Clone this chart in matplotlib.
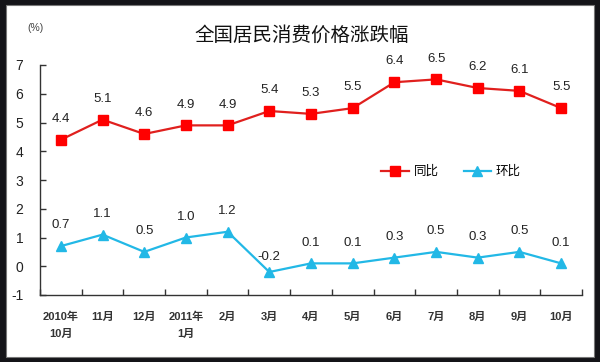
import matplotlib
matplotlib.use("Agg")
import matplotlib.pyplot as plt
from matplotlib.patches import Rectangle
from matplotlib.ticker import FixedLocator

plt.rcParams['font.family'] = ['Liberation Sans', 'Noto Sans CJK SC', 'DejaVu Sans']

categories = ["2010年\n10月", "11月", "12月", "2011年\n1月", "2月", "3月", "4月",
              "5月", "6月", "7月", "8月", "9月", "10月"]
yoy = [4.4, 5.1, 4.6, 4.9, 4.9, 5.4, 5.3, 5.5, 6.4, 6.5, 6.2, 6.1, 5.5]
mom = [0.7, 1.1, 0.5, 1.0, 1.2, -0.2, 0.1, 0.1, 0.3, 0.5, 0.3, 0.5, 0.1]
yoy_labels = ["4.4", "5.1", "4.6", "4.9", "4.9", "5.4", "5.3", "5.5", "6.4", "6.5", "6.2", "6.1", "5.5"]
mom_labels = ["0.7", "1.1", "0.5", "1.0", "1.2", "-0.2", "0.1", "0.1", "0.3", "0.5", "0.3", "0.5", "0.1"]
yticks = [-1, 0, 1, 2, 3, 4, 5, 6, 7]
title = "全国居民消费价格涨跌幅"
unit = "(%)"
legend_names = ["同比", "环比"]

W, H = 600, 362
fig = plt.figure(figsize=(W / 100, H / 100), dpi=100)
fig.patch.set_facecolor('#141418')
bg = Rectangle((6 / W, 5 / H), (594 - 6) / W, (357 - 5) / H,
               transform=fig.transFigure, facecolor='white',
               edgecolor='#777777', linewidth=0.8, zorder=-5)
fig.add_artist(bg)

ax = fig.add_axes([40 / W, 1 - 295 / H, (582 - 40) / W, (295 - 65) / H])
ax.set_facecolor('none')
ax.set_zorder(2)
x = list(range(len(categories)))

red_line = '#E0201E'
red_marker = '#FF0000'
cyan = '#22B8E6'

ax.plot(x, yoy, color=red_line, lw=1.6, marker='s', ms=6.5,
        mfc=red_marker, mec=red_marker, label=legend_names[0], zorder=3)
ax.plot(x, mom, color=cyan, lw=1.6, marker='^', ms=7.5,
        mfc=cyan, mec=cyan, label=legend_names[1], zorder=3)

for xi, v, t in zip(x, yoy, yoy_labels):
    ax.annotate(t, (xi, v), xytext=(0, 15), textcoords='offset points',
                ha='center', va='center', fontsize=9.5, color='#222222')
for xi, v, t in zip(x, mom, mom_labels):
    off = 11 if v < 0 else 15
    ax.annotate(t, (xi, v), xytext=(0, off), textcoords='offset points',
                ha='center', va='center', fontsize=9.5, color='#222222')

ax.set_xlim(-0.5, len(categories) - 0.5)
ax.set_ylim(-1, 7)
ax.set_yticks(yticks)
ax.set_yticklabels([str(v) for v in yticks], fontsize=10, color='#222222')
ax.tick_params(axis='y', direction='in', length=4, width=1, color='#333333', pad=12)

ax.set_xticks(x)
ax.set_xticklabels(categories, fontsize=8, color='#333333', fontweight='bold',
                   linespacing=1.8)
ax.tick_params(axis='x', which='major', length=0, pad=12)
ax.xaxis.set_minor_locator(FixedLocator([i - 0.5 for i in range(len(categories) + 1)]))
ax.tick_params(axis='x', which='minor', direction='in', length=4, width=1, color='#333333')

for s in ['top', 'right']:
    ax.spines[s].set_visible(False)
for s in ['left', 'bottom']:
    ax.spines[s].set_color('#333333')
    ax.spines[s].set_linewidth(1.0)

fig.text(302 / W, 1 - 35 / H, title, ha='center', va='center', fontsize=14,
         color='#111111', zorder=3)
fig.text(35 / W, 1 - 28 / H, unit, ha='center', va='center', fontsize=7.5,
         color='#444444', zorder=3)

leg = fig.legend(loc='center', bbox_to_anchor=(451 / W, 1 - 172 / H), ncol=2,
                 frameon=False, fontsize=9, handlelength=2.2, columnspacing=2.0,
                 handletextpad=0.4)
leg.set_zorder(3)

fig.savefig('out.png', dpi=100, facecolor=fig.get_facecolor())
